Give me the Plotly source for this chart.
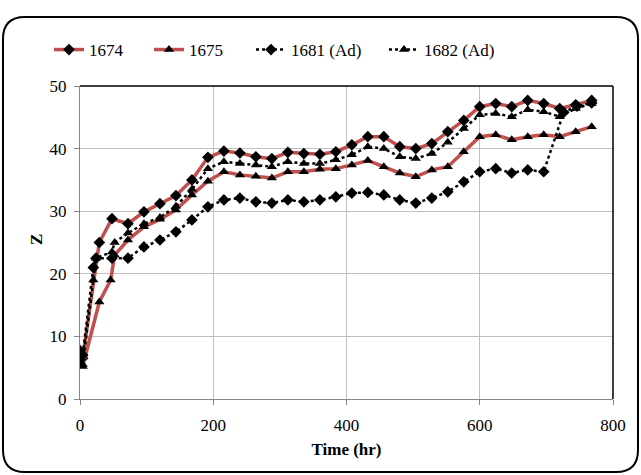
import plotly.graph_objects as go

# ---- data ----
t_1674 = [0, 4, 29, 48, 72, 96, 120, 144, 168, 192, 216, 240, 264, 288, 312, 336, 360, 384,
          408, 432, 456, 480, 504, 528, 552, 576, 600, 624, 648, 672, 696, 720, 744, 768]
z_1674 = [7.5, 6.5, 25.0, 28.8, 28.0, 29.9, 31.2, 32.5, 35.0, 38.6, 39.6, 39.3, 38.7, 38.4, 39.4,
          39.2, 39.1, 39.5, 40.6, 41.9, 41.9, 40.3, 40.0, 40.8, 42.7, 44.5, 46.7, 47.2, 46.7,
          47.7, 47.2, 46.4, 47.0, 47.7]

t_1675 = [0, 4, 29, 46, 52, 72, 96, 120, 144, 168, 192, 216, 240, 264, 288, 312, 336, 360, 384,
          408, 432, 456, 480, 504, 528, 552, 576, 600, 624, 648, 672, 696, 720, 744, 768]
z_1675 = [6.8, 5.2, 15.5, 19.0, 23.0, 25.4, 27.5, 28.7, 30.2, 32.6, 34.8, 36.3, 35.8, 35.6, 35.3,
          36.3, 36.3, 36.7, 36.8, 37.4, 38.1, 37.1, 36.1, 35.5, 36.6, 37.1, 39.5, 41.9, 42.2,
          41.4, 41.9, 42.2, 41.9, 42.7, 43.5]

t_1681 = [0, 4, 20, 24, 48, 72, 96, 120, 144, 168, 192, 216, 240, 264, 288, 312, 336, 360, 384,
          408, 432, 456, 480, 504, 528, 552, 576, 600, 624, 648, 672, 696, 726, 746, 768]
z_1681 = [6.3, 7.0, 21.0, 22.5, 22.5, 22.5, 24.3, 25.4, 26.7, 28.6, 30.7, 31.8, 32.1, 31.5, 31.3,
          31.8, 31.5, 31.8, 32.3, 32.9, 33.0, 32.6, 31.8, 31.3, 32.1, 33.1, 34.7, 36.3, 36.8,
          36.1, 36.6, 36.3, 45.8, 46.8, 47.3]

t_1682 = [0, 4, 20, 24, 48, 52, 72, 96, 120, 144, 168, 192, 216, 240, 264, 288, 312, 336, 360,
          384, 408, 432, 456, 480, 504, 528, 552, 576, 600, 624, 648, 672, 696, 720, 744, 768]
z_1682 = [8.0, 5.5, 19.0, 22.5, 23.5, 25.0, 26.5, 28.0, 29.0, 30.8, 33.5, 36.8, 37.9, 37.6, 37.4,
          37.1, 37.9, 37.6, 37.6, 38.2, 39.0, 40.3, 40.0, 38.7, 38.4, 39.2, 41.0, 43.2, 45.4,
          45.6, 45.1, 46.2, 45.9, 45.1, 46.4, 47.2]

x_ticks = [0, 200, 400, 600, 800]
y_ticks = [0, 10, 20, 30, 40, 50]

RED = "#C0504D"
FONT = "Liberation Serif, Times New Roman, serif"
W, H = 641, 475

# pixel geometry helpers (plot area: x 80..613, y 86..399)
L, R, T, B = 80, 613, 86, 399
def PX(px):
    return (px - L) / (R - L)
def PY(py):
    return (B - py) / (B - T)

fig = go.Figure()
fig.add_trace(go.Scatter(x=t_1674, y=z_1674, name="1674", mode="lines+markers",
                         line=dict(color=RED, width=3.5),
                         marker=dict(symbol="diamond", size=9, color="black"),
                         legend="legend2"))
fig.add_trace(go.Scatter(x=t_1675, y=z_1675, name="1675", mode="lines+markers",
                         line=dict(color=RED, width=3.5),
                         marker=dict(symbol="triangle-up", size=9, color="black"),
                         legend="legend3"))
fig.add_trace(go.Scatter(x=t_1681, y=z_1681, name="1681 (Ad)", mode="lines+markers",
                         line=dict(color="black", width=2.5, dash="dot"),
                         marker=dict(symbol="diamond", size=9, color="black"),
                         legend="legend4"))
fig.add_trace(go.Scatter(x=t_1682, y=z_1682, name="1682 (Ad)", mode="lines+markers",
                         line=dict(color="black", width=2.5, dash="dot"),
                         marker=dict(symbol="triangle-up", size=9, color="black"),
                         legend="legend5"))

def leg(px_left):
    return dict(orientation="h", xref="container", yref="container",
                x=px_left / W, y=1 - 50 / H, xanchor="left", yanchor="middle",
                font=dict(family=FONT, size=17, color="black"),
                bgcolor="rgba(0,0,0,0)", borderwidth=0)

fig.update_layout(
    width=W, height=H,
    margin=dict(l=L, r=W - R, t=T, b=H - B, autoexpand=False),
    paper_bgcolor="white", plot_bgcolor="white",
    font=dict(family=FONT, size=17, color="black"),
    legend2=leg(49),
    legend3=leg(149),
    legend4=leg(251),
    legend5=leg(384),
    xaxis=dict(range=[0, 800], tickvals=x_ticks, showgrid=True, gridcolor="#BFBFBF",
               gridwidth=1, zeroline=False, showline=True, linecolor="#868686", linewidth=1,
               ticks="outside", ticklen=5, tickcolor="#868686",
               tickfont=dict(family=FONT, size=17), ticklabelstandoff=6,
               title=dict(text="<b>Time (hr)</b>", font=dict(family=FONT, size=17), standoff=8)),
    yaxis=dict(range=[0, 50], tickvals=y_ticks, showgrid=True, gridcolor="#BFBFBF",
               gridwidth=1, zeroline=False, showline=True, linecolor="#868686", linewidth=1,
               ticks="outside", ticklen=5, tickcolor="#868686",
               tickfont=dict(family=FONT, size=17), ticklabelstandoff=4),
)

fig.add_annotation(text="<b>Z</b>", xref="paper", yref="paper", x=PX(37), y=PY(240),
                   xanchor="center", yanchor="middle", textangle=-90, showarrow=False,
                   font=dict(family=FONT, size=17, color="black"))

# black frame on top and right of plot area
fig.add_shape(type="line", xref="paper", yref="paper", x0=0, x1=1, y0=1, y1=1,
              line=dict(color="black", width=1.5))
fig.add_shape(type="line", xref="paper", yref="paper", x0=1, x1=1, y0=0, y1=1,
              line=dict(color="black", width=1.5))

# rounded outer border
bl, br, bt, bb, r = 3, 638, 17, 472, 22
path = (f"M {PX(bl + r)},{PY(bt)} L {PX(br - r)},{PY(bt)} "
        f"Q {PX(br)},{PY(bt)} {PX(br)},{PY(bt + r)} L {PX(br)},{PY(bb - r)} "
        f"Q {PX(br)},{PY(bb)} {PX(br - r)},{PY(bb)} L {PX(bl + r)},{PY(bb)} "
        f"Q {PX(bl)},{PY(bb)} {PX(bl)},{PY(bb - r)} L {PX(bl)},{PY(bt + r)} "
        f"Q {PX(bl)},{PY(bt)} {PX(bl + r)},{PY(bt)} Z")
fig.add_shape(type="path", xref="paper", yref="paper", path=path,
              line=dict(color="black", width=2), layer="above")

fig.write_html("out.html")
